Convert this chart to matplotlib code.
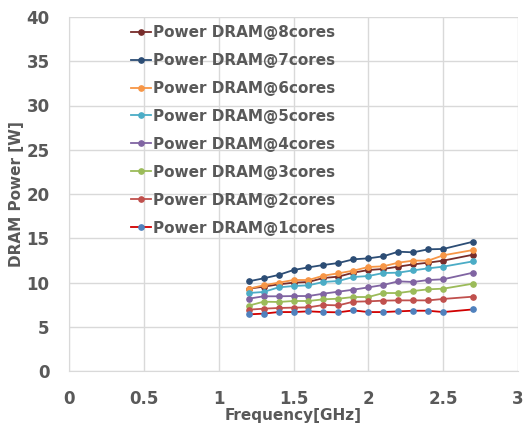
import matplotlib
matplotlib.use('Agg')
import matplotlib.pyplot as plt

# Frequency points (GHz)
freq = [1.2, 1.3, 1.4, 1.5, 1.6, 1.7, 1.8, 1.9, 2.0, 2.1, 2.2, 2.3, 2.4, 2.5, 2.7]

# DRAM power (W) per core count
power_1c = [6.40, 6.48, 6.66, 6.66, 6.74, 6.66, 6.63, 6.85, 6.66, 6.66, 6.74, 6.81, 6.81, 6.66, 6.96]
power_2c = [6.93, 7.04, 7.12, 7.16, 7.19, 7.46, 7.42, 7.83, 7.87, 7.95, 7.98, 7.98, 7.98, 8.14, 8.40]
power_3c = [7.38, 7.83, 7.80, 7.91, 7.91, 8.10, 8.17, 8.36, 8.36, 8.81, 8.81, 9.04, 9.23, 9.30, 9.87]
power_4c = [8.17, 8.44, 8.44, 8.47, 8.47, 8.74, 8.96, 9.19, 9.45, 9.72, 10.13, 10.06, 10.28, 10.36, 11.11]
power_5c = [8.81, 8.93, 9.45, 9.60, 9.68, 10.06, 10.17, 10.62, 10.73, 11.07, 11.11, 11.37, 11.60, 11.79, 12.39]
power_6c = [9.30, 9.68, 9.98, 10.28, 10.28, 10.77, 11.04, 11.34, 11.75, 11.83, 12.24, 12.47, 12.47, 13.07, 13.67]
power_7c = [10.13, 10.47, 10.85, 11.41, 11.71, 11.98, 12.20, 12.62, 12.73, 12.96, 13.48, 13.41, 13.75, 13.79, 14.61]
power_8c = [9.30, 9.53, 9.79, 9.98, 10.06, 10.51, 10.66, 11.11, 11.41, 11.53, 11.79, 12.05, 12.24, 12.47, 13.14]

labels = ['Power DRAM@8cores', 'Power DRAM@7cores', 'Power DRAM@6cores', 'Power DRAM@5cores',
          'Power DRAM@4cores', 'Power DRAM@3cores', 'Power DRAM@2cores', 'Power DRAM@1cores']
series = [power_8c, power_7c, power_6c, power_5c, power_4c, power_3c, power_2c, power_1c]
marker_colors = ['#772C2A', '#2C4D75', '#F79646', '#4BACC6', '#8064A2', '#9BBB59', '#C0504D', '#4F81BD']
line_colors = ['#772C2A', '#2C4D75', '#F79646', '#4BACC6', '#8064A2', '#9BBB59', '#C0504D', '#D00000']

txt = '#595959'
grid = '#D9D9D9'
plt.rcParams['font.family'] = ['DejaVu Sans']

fig = plt.figure(figsize=(5.27, 4.33), dpi=100)
ax = fig.add_axes([69 / 527, 62 / 433, 449 / 527, 354 / 433])

for vals, lab, mc, lc in zip(series, labels, marker_colors, line_colors):
    ax.plot(freq, vals, color=lc, lw=1.3, marker='o', markersize=3.8,
            markerfacecolor=mc, markeredgecolor=mc, label=lab)

ax.set_xlim(0, 3)
ax.set_ylim(0, 40)
ax.set_xticks([0, 0.5, 1, 1.5, 2, 2.5, 3])
ax.set_xticklabels(['0', '0.5', '1', '1.5', '2', '2.5', '3'])
ax.set_yticks(range(0, 41, 5))
ax.grid(True, color=grid, lw=1)
ax.set_axisbelow(True)
for s in ax.spines.values():
    s.set_visible(False)
ax.spines['left'].set_visible(True)
ax.spines['bottom'].set_visible(True)
ax.spines['left'].set_color(grid)
ax.spines['bottom'].set_color(grid)
ax.tick_params(length=0, labelsize=12, labelcolor=txt)
ax.tick_params(axis='y', pad=14)
ax.tick_params(axis='x', pad=14)
for t in ax.get_xticklabels() + ax.get_yticklabels():
    t.set_fontweight('bold')

ax.set_xlabel('Frequency[GHz]', fontsize=11, fontweight='bold', color=txt, labelpad=0)
ax.set_ylabel('DRAM Power [W]', fontsize=11, fontweight='bold', color=txt, labelpad=2)

leg = ax.legend(loc='upper left', bbox_to_anchor=(0.125, 0.995), frameon=False,
                prop={'size': 11, 'weight': 'bold'}, handlelength=1.3,
                handletextpad=0.1, labelspacing=0.85, borderaxespad=0)
for t in leg.get_texts():
    t.set_color(txt)

fig.savefig('out.png', dpi=100)
